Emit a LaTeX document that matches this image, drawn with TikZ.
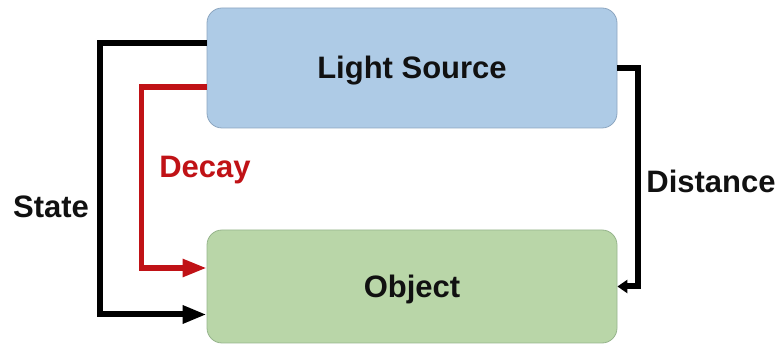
\documentclass[tikz,border=0pt]{standalone}
\usepackage{fontspec}
\setmainfont{Liberation Sans}
\usetikzlibrary{arrows.meta}
\definecolor{lsfill}{RGB}{174,203,230}
\definecolor{lsdraw}{RGB}{140,166,192}
\definecolor{objfill}{RGB}{185,214,168}
\definecolor{objdraw}{RGB}{150,180,140}
\definecolor{decayred}{RGB}{192,18,22}
\definecolor{ink}{RGB}{17,17,17}
\tikzset{
  block/.style={draw, line width=0.8pt, rounded corners=15pt, minimum width=410pt,
    text=ink, text depth=1pt, font=\fontsize{31}{37}\selectfont\bfseries},
  label/.style={font=\fontsize{31}{37}\selectfont\bfseries, text=ink},
  link/.style={line width=6pt, line join=miter},
  bigtip/.style={-{Triangle[length=24pt,width=17pt]}},
  smalltip/.style={-{Triangle[length=10pt,width=13pt]}}
}
\begin{document}
\begin{tikzpicture}[x=1pt,y=-1pt]
  \useasboundingbox (0,0) rectangle (777,347);
  % the two blocks
  \node[block, fill=lsfill, draw=lsdraw, minimum height=120pt] (ls) at (412,68) {Light Source};
  \node[block, fill=objfill, draw=objdraw, minimum height=113pt] (obj) at (412,286.5) {Object};
  % state feedback
  \draw[link, bigtip, black] ([yshift=25pt]ls.west) -- ++(-107,0) |- ([yshift=-28pt]obj.west);
  % decay
  \draw[link, bigtip, decayred, line width=5.5pt] ([yshift=-19pt]ls.west) -- ++(-65,0) |- ([yshift=18.5pt]obj.west);
  % distance
  \draw[link, smalltip, black] (ls.east) -- ++(21,0) |- (obj.east);
  % labels
  \node[label] (state) at (51,207) {State};
  \node[label, text=decayred] (decay) at (205,170) {Decay};
  \node[label] (dist) at (711,181) {Distance};
\end{tikzpicture}
\end{document}
